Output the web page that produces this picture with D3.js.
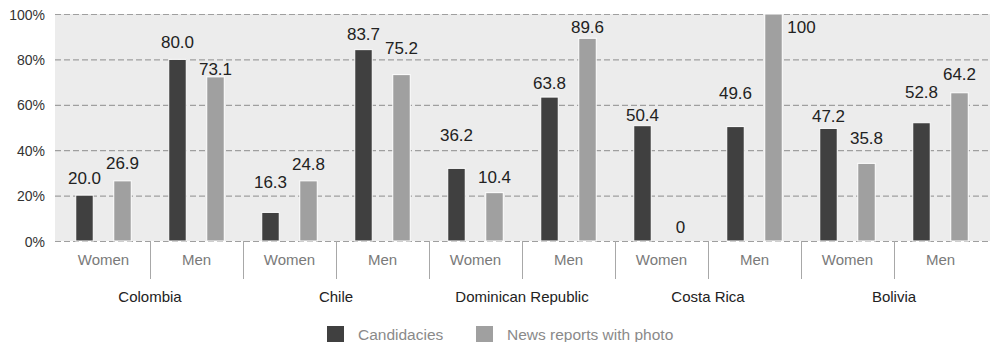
<!DOCTYPE html>
<html>
<head>
<meta charset="utf-8">
<script src="https://cdn.jsdelivr.net/npm/d3@7"></script>
<style>
  html, body { margin: 0; padding: 0; background: #fff; }
  svg { display: block; font-family: "Liberation Sans", Arial, Helvetica, sans-serif; }
</style>
</head>
<body>
<svg id="chart" width="990" height="342"></svg>
<script>
// ---------- data ----------
const countries = ["Colombia", "Chile", "Dominican Republic", "Costa Rica", "Bolivia"];
const genders = ["Women", "Men"];
const seriesNames = ["Candidacies", "News reports with photo"];
const yTicks = [0, 20, 40, 60, 80, 100];
const yTickLabels = ["0%", "20%", "40%", "60%", "80%", "100%"];
// bar heights as drawn (order: Colombia W, Colombia M, Chile W, Chile M, ...)
const candidacies = [20.2, 80.0, 12.6, 84.3, 32.0, 63.4, 50.8, 50.4, 49.6, 52.1];
const newsWithPhoto = [26.5, 72.3, 26.5, 73.3, 21.3, 89.3, 0, 100, 34.2, 65.3];
// printed value labels
const candidaciesLabels = ["20.0", "80.0", "16.3", "83.7", "36.2", "63.8", "50.4", "49.6", "47.2", "52.8"];
const newsWithPhotoLabels = ["26.9", "73.1", "24.8", "75.2", "10.4", "89.6", "0", "100", "35.8", "64.2"];

// ---------- layout (label placement, px) ----------
const labelGap = [
  [11, 11, 24, 10, 27, 8, 5, 28, 6, 25],
  [12, 2, 11, 21, 10, 5, 8, -19, 19, 13]
];
const labelDx = [
  [0, 0, 0, 0, 0, 0, 0, 0, 0, 0],
  [0, 0, 0, 0, 0, 0, 0, 28, 0, 0]
];

const svg = d3.select("#chart");
const colors = ["#404040", "#a0a0a0"];
const font = '"Liberation Sans", Arial, Helvetica, sans-serif';

const x0 = d3.scaleBand().domain(countries).range([57, 987]).padding(0);
const x1 = d3.scaleBand().domain(genders).range([0, x0.bandwidth()]).padding(0);
const x2 = d3.scaleBand().domain(seriesNames).range([0, x1.bandwidth()])
  .paddingInner(0.5395).paddingOuter(0.4934);
const y = d3.scaleLinear().domain([0, 100]).range([241, 14]);

// background
svg.append("rect").attr("x", 55).attr("y", y(100)).attr("width", 990 - 55)
  .attr("height", y(0) - y(100)).attr("fill", "#ececec");

// grid lines
const yAxis = d3.axisLeft(y).tickValues(yTicks).tickSize(-(990 - 55))
  .tickFormat((d, i) => yTickLabels[i]).tickPadding(10);
const gy = svg.append("g").attr("transform", "translate(55,0)").call(yAxis);
gy.select(".domain").remove();
gy.selectAll(".tick line").attr("stroke", "#9f9f9f").attr("stroke-width", 1.2)
  .attr("stroke-dasharray", "6,3");
gy.selectAll(".tick text").attr("font-family", font).attr("font-size", 14)
  .attr("fill", "#333").attr("x", -10).attr("dy", "0.36em");

// flattened records
const records = [];
countries.forEach((c, ci) => {
  genders.forEach((g, gi) => {
    const idx = ci * 2 + gi;
    [candidacies, newsWithPhoto].forEach((arr, si) => {
      records.push({
        country: c, gender: g, series: seriesNames[si], si, idx,
        value: arr[idx],
        label: si === 0 ? candidaciesLabels[idx] : newsWithPhotoLabels[idx]
      });
    });
  });
});

const bx = d => x0(d.country) + x1(d.gender) + x2(d.series);

// bars
svg.append("g").selectAll("rect").data(records.filter(d => d.value > 0)).join("rect")
  .attr("x", bx)
  .attr("y", d => y(d.value))
  .attr("width", x2.bandwidth())
  .attr("height", d => y(0) - y(d.value))
  .attr("fill", d => colors[d.si])
  .attr("stroke", "#fff").attr("stroke-width", 1);

// value labels
svg.append("g").selectAll("text").data(records).join("text")
  .attr("x", d => bx(d) + x2.bandwidth() / 2 + labelDx[d.si][d.idx])
  .attr("y", d => y(d.value) - labelGap[d.si][d.idx])
  .attr("text-anchor", "middle")
  .attr("font-family", font).attr("font-size", 17).attr("fill", "#222")
  .text(d => d.label);

// separators between gender bands
const seps = [];
countries.forEach(c => genders.forEach(g => seps.push(x0(c) + x1(g))));
svg.append("g").selectAll("line").data(seps.slice(1)).join("line")
  .attr("x1", d => Math.round(d) + 0.5).attr("x2", d => Math.round(d) + 0.5)
  .attr("y1", y(0)).attr("y2", 279)
  .attr("stroke", "#a8a8a8").attr("stroke-width", 1);

// gender labels
const gl = [];
countries.forEach(c => genders.forEach(g => gl.push({ c, g })));
svg.append("g").selectAll("text").data(gl).join("text")
  .attr("x", d => x0(d.c) + x1(d.g) + x1.bandwidth() / 2)
  .attr("y", 265)
  .attr("text-anchor", "middle")
  .attr("font-family", font).attr("font-size", 15).attr("fill", "#7a7a7a")
  .text(d => d.g);

// country labels
svg.append("g").selectAll("text").data(countries).join("text")
  .attr("x", d => x0(d) + x0.bandwidth() / 2)
  .attr("y", 301.5)
  .attr("text-anchor", "middle")
  .attr("font-family", font).attr("font-size", 15).attr("fill", "#222")
  .text(d => d);

// legend
const legendX = [327, 476];
const lg = svg.append("g");
seriesNames.forEach((s, i) => {
  lg.append("rect").attr("x", legendX[i]).attr("y", 326).attr("width", 17).attr("height", 17)
    .attr("fill", colors[i]);
  lg.append("text").attr("x", legendX[i] + 31).attr("y", 340)
    .attr("font-family", font).attr("font-size", 15.5).attr("fill", "#8a8a8a")
    .text(s);
});
</script>
</body>
</html>
